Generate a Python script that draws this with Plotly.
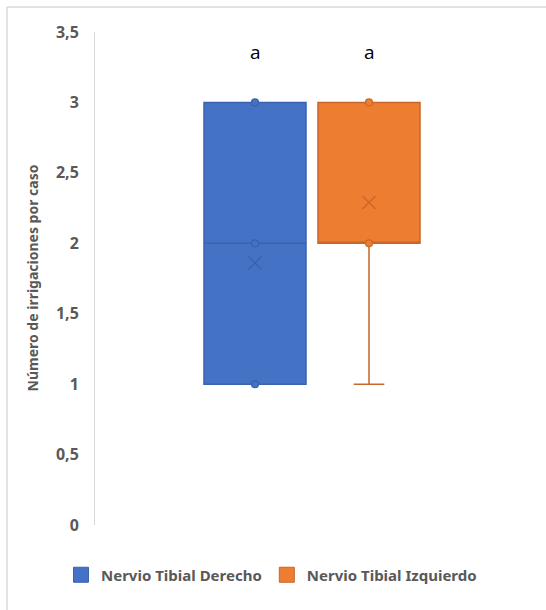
import plotly.graph_objects as go

# ---- data ----
series = ["Nervio Tibial Derecho", "Nervio Tibial Izquierdo"]
q1 = [1, 2]
median = [2, 2]
q3 = [3, 3]
lower_fence = [1, 1]
upper_fence = [3, 3]
means = [1.86, 2.29]
inner_points = [[1, 2, 3], [2, 3]]
letters = ["a", "a"]
y_ticks = [0, 0.5, 1, 1.5, 2, 2.5, 3, 3.5]
y_title = "Número de irrigaciones por caso"

# ---- styles ----
fills = ["#4472C4", "#ED7D31"]
edges = ["#3A62AD", "#C9662A"]
text_grey = "#595959"
axis_grey = "#D9D9D9"

W, H = 546, 610
L, R, T, B = 95, 17, 32, 85
pw, ph = W - L - R, H - T - B
slot_px = 114
box_px = 102
half = pw / slot_px / 2

fig = go.Figure()
for i, name in enumerate(series):
    fig.add_trace(go.Box(
        x=[i], q1=[q1[i]], median=[median[i]], q3=[q3[i]],
        lowerfence=[lower_fence[i]], upperfence=[upper_fence[i]],
        name=name, width=box_px / slot_px, whiskerwidth=0.3,
        fillcolor=fills[i], line=dict(color=edges[i], width=1.5),
        boxpoints=False, hoverinfo="skip", showlegend=False,
        legendgroup=name,
    ))
for i, name in enumerate(series):
    fig.add_trace(go.Scatter(
        x=[i] * len(inner_points[i]), y=inner_points[i], mode="markers",
        marker=dict(symbol="circle", size=7, color=fills[i],
                    line=dict(color=edges[i], width=1.2)),
        showlegend=False, hoverinfo="skip", legendgroup=name,
    ))
    fig.add_trace(go.Scatter(
        x=[i], y=[means[i]], mode="markers",
        marker=dict(symbol="x-thin-open", size=13, color=edges[i],
                    line=dict(color=edges[i], width=1.3)),
        showlegend=False, hoverinfo="skip", legendgroup=name,
    ))
    fig.add_annotation(x=i, y=3.357, text=letters[i], showarrow=False,
                       font=dict(family="Open Sans", size=19, color="black"),
                       xanchor="center", yanchor="middle")
# legend entries (square swatches)
for i, name in enumerate(series):
    fig.add_trace(go.Scatter(
        x=[None], y=[None], mode="markers", name=name, legendgroup=name,
        marker=dict(symbol="square", size=15, color=fills[i],
                    line=dict(color=edges[i], width=1)),
        hoverinfo="skip",
    ))

# y-axis title
fig.add_annotation(x=(32 - L) / pw, y=0.5, xref="paper", yref="paper",
                   text=y_title, textangle=-90, showarrow=False,
                   font=dict(family="Noto Sans", size=14, color=text_grey,
                             weight="bold"),
                   xanchor="center", yanchor="middle")

# chart border (top and left)
fig.add_shape(type="line", xref="paper", yref="paper",
              x0=(7 - L) / pw, x1=(W + 5 - L) / pw,
              y0=(H - B - 7) / ph, y1=(H - B - 7) / ph,
              line=dict(color=axis_grey, width=1.5))
fig.add_shape(type="line", xref="paper", yref="paper",
              x0=(7 - L) / pw, x1=(7 - L) / pw,
              y0=(H - B - 7) / ph, y1=(H - B - H - 5) / ph,
              line=dict(color=axis_grey, width=1.5))

fig.update_layout(
    width=W, height=H,
    margin=dict(l=L, r=R, t=T, b=B, autoexpand=False),
    paper_bgcolor="white", plot_bgcolor="white",
    separators=", ",
    showlegend=True,
    legend=dict(orientation="h", xref="container", yref="container",
                x=61 / W, xanchor="left",
                y=1 - 575 / H, yanchor="middle",
                font=dict(family="Noto Sans", size=15, color=text_grey,
                          weight="bold"),
                itemwidth=30, traceorder="normal"),
    xaxis=dict(range=[0.5 - half, 0.5 + half], showticklabels=False,
               showline=False, zeroline=False, showgrid=False, ticks=""),
    yaxis=dict(range=[0, 3.5], tickvals=y_ticks, showgrid=False,
               zeroline=False, showline=True, linecolor=axis_grey, linewidth=1,
               ticks="", ticklabelstandoff=12,
               tickfont=dict(family="Noto Sans", size=16, color=text_grey,
                             weight="bold")),
)

fig.write_html("out.html", config={"displayModeBar": False},
               post_script="document.body.style.margin='0';document.body.style.overflow='hidden';")
